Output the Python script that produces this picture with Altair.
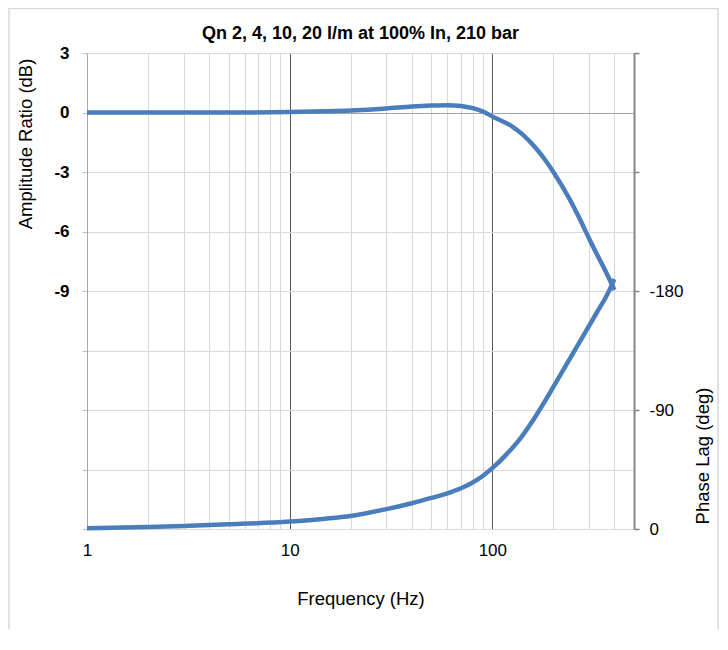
import altair as alt
import pandas as pd

# ---- data ----
amp_freq = [1, 2, 5, 10, 15, 20, 30, 40, 50, 60, 70, 80, 90, 100, 126, 140, 160, 180, 200, 240, 268, 300, 330, 356, 390, 400]
amp_db = [0.0, 0.0, 0.0, 0.02, 0.06, 0.1, 0.2, 0.3, 0.35, 0.37, 0.33, 0.22, 0.05, -0.2, -0.72, -1.08, -1.68, -2.32, -3.0, -4.35, -5.3, -6.35, -7.2, -7.85, -8.7, -8.95]

ph_freq = [1, 2, 3, 5, 10, 15, 20, 30, 40, 50, 60, 70, 80, 90, 100, 120, 136, 160, 184, 200, 239, 268, 300, 330, 363, 390, 400]
ph_deg = [-0.5, -1.5, -2.3, -3.5, -5.6, -7.8, -9.9, -15, -19.5, -23.5, -27, -30.8, -35.2, -40.3, -46, -58, -67.6, -83, -98, -107.5, -127.8, -140.8, -153.6, -164.5, -175.3, -185, -189]

x_grid = [1, 2, 3, 4, 5, 6, 7, 8, 9, 10, 20, 30, 40, 50, 60, 70, 80, 90, 100, 200, 300, 400, 500]
amp_ticks = [3, 0, -3, -6, -9, -12, -15, -18, -21]
ph_ticks = [0, -90, -180, -270, -360]

title_text = "Qn 2, 4, 10, 20 l/m at 100% In, 210 bar"

df_amp = pd.DataFrame({"f": amp_freq, "v": amp_db})
df_ph = pd.DataFrame({"f": ph_freq, "v": ph_deg})

FONT = "Liberation Sans"
BLUE = "#4A7EBB"

x_enc = alt.X(
    "f:Q",
    scale=alt.Scale(type="log", domain=[1, 500], nice=False),
    axis=alt.Axis(
        values=x_grid,
        labelExpr="(datum.value == 1 || datum.value == 10 || datum.value == 100) ? format(datum.value, 'd') : ''",
        labelFlush=False,
        labelOverlap=False,
        grid=True,
        gridColor={"condition": {"test": "datum.value == 10 || datum.value == 100", "value": "#595959"}, "value": "#d9d9d9"},
        gridWidth=1,
        domain=False,
        ticks=False,
        labelPadding=13,
        labelFontSize=17,
        labelFont=FONT,
        labelColor="#000000",
        title="Frequency (Hz)",
        titleFont=FONT,
        titleFontSize=18.5,
        titleFontWeight="normal",
        titleColor="#000000",
        titleY=69,
        titleBaseline="middle",
    ),
)

amp = alt.Chart(df_amp).mark_line(color=BLUE, strokeWidth=4.5, interpolate="monotone").encode(
    x=x_enc,
    y=alt.Y(
        "v:Q",
        scale=alt.Scale(domain=[-21, 3], nice=False, zero=False),
        axis=alt.Axis(
            orient="left",
            values=amp_ticks,
            labelExpr="datum.value >= -9 ? ('' + datum.value) : ''",
            labelOverlap=False,
            grid=True,
            gridColor={"condition": {"test": "datum.value == 0", "value": "#a6a6a6"}, "value": "#d9d9d9"},
            domainColor="#a6a6a6",
            tickColor="#bfbfbf",
            tickSize=5,
            labelPadding=13,
            labelFont=FONT,
            labelFontSize=17,
            labelFontWeight="bold",
            labelColor="#000000",
            title="Amplitude Ratio (dB)",
            titleFont=FONT,
            titleFontSize=18.5,
            titleFontWeight="normal",
            titleColor="#000000",
            titleX=-61.5,
            titleY=90.5,
            titleAngle=270,
            titleAlign="center",
            titleBaseline="middle",
        ),
    ),
)

phase = alt.Chart(df_ph).mark_line(color=BLUE, strokeWidth=4.5, interpolate="monotone").encode(
    x=x_enc,
    y=alt.Y(
        "v:Q",
        scale=alt.Scale(domain=[-360, 0], nice=False, zero=False, reverse=True),
        axis=alt.Axis(
            orient="right",
            values=ph_ticks,
            labelExpr="datum.value >= -180 ? ('' + datum.value) : ''",
            labelOverlap=False,
            grid=False,
            domainColor="#868686",
            domainWidth=2,
            tickColor="#868686",
            tickWidth=1.5,
            tickSize=5,
            labelPadding=10,
            labelFont=FONT,
            labelFontSize=17,
            labelColor="#000000",
            title="Phase Lag (deg)",
            titleFont=FONT,
            titleFontSize=18.5,
            titleFontWeight="normal",
            titleColor="#000000",
            titleX=68.5,
            titleY=402.5,
            titleAngle=270,
            titleAlign="center",
            titleBaseline="middle",
        ),
    ),
)

frame = alt.Chart(pd.DataFrame({"a": [0]})).mark_rect(
    fillOpacity=0, stroke="#d9d9d9", strokeWidth=1.5
).encode(
    x=alt.value(-78), x2=alt.value(631), y=alt.value(-44.5), y2=alt.value(700)
)

chart = (
    alt.layer(frame, amp, phase)
    .resolve_scale(y="independent")
    .properties(
        width=547,
        height=476,
        title=alt.TitleParams(
            text=title_text,
            font=FONT,
            fontSize=18,
            fontWeight="bold",
            color="#000000",
            anchor="middle",
            offset=-35,
        ),
        autosize=alt.AutoSizeParams(type="none"),
        padding={"left": 79, "top": 45, "right": 86, "bottom": 100},
    )
    .configure_view(stroke=None)
    .configure(background="#ffffff")
)

chart.save("out.html", embed_options={"renderer": "svg", "actions": False})
